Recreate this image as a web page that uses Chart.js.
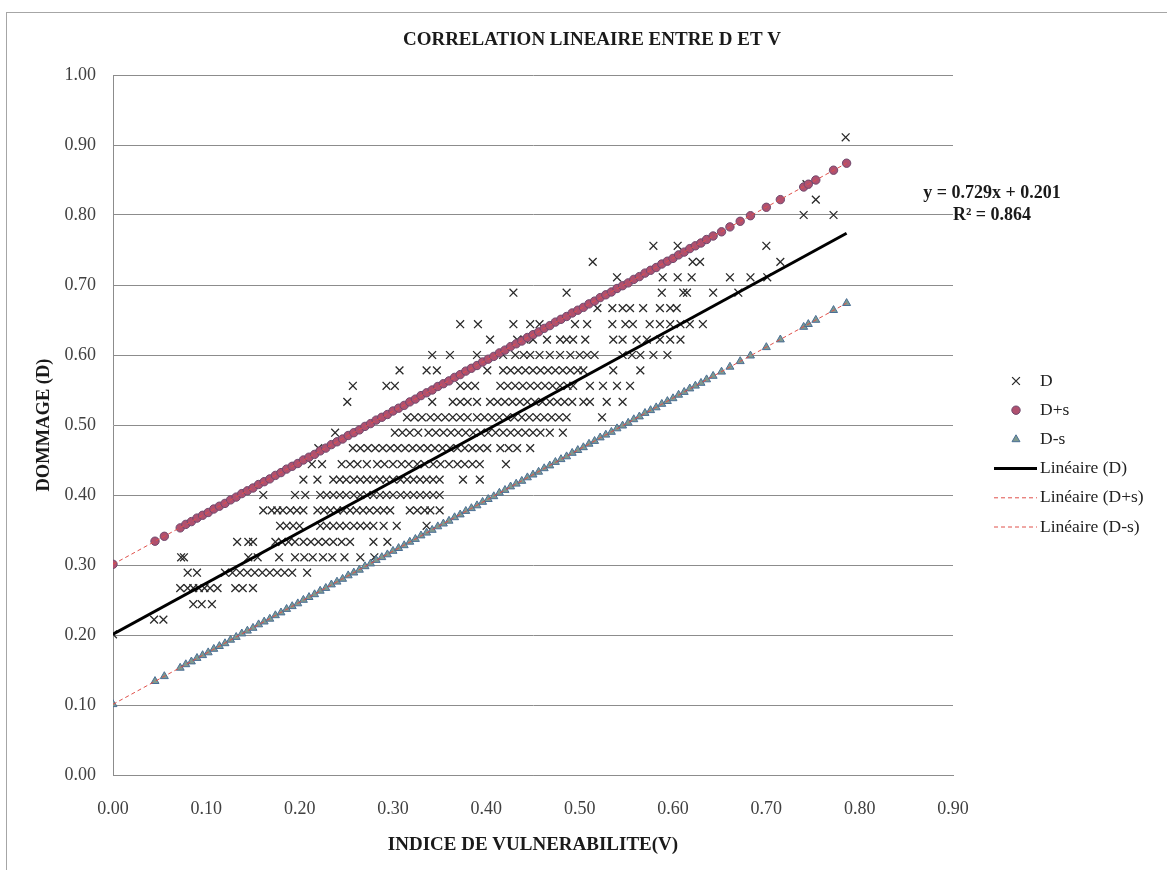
<!DOCTYPE html>
<html>
<head>
<meta charset="utf-8">
<script src="https://cdn.jsdelivr.net/npm/chart.js@4.4.0/dist/chart.umd.min.js"></script>
<style>
  html, body { margin: 0; padding: 0; background: #fff; }
  #wrap { position: relative; width: 1167px; height: 870px; }
</style>
</head>
<body>
<div id="wrap"><canvas id="corrChart" width="1167" height="870"></canvas></div>
<script>
const chartTitle = 'CORRELATION LINEAIRE ENTRE D ET V';
const xTitle = 'INDICE DE VULNERABILITE(V)';
const yTitle = 'DOMMAGE (D)';
const eqLines = ['y = 0.729x + 0.201', 'R\u00b2 = 0.864'];
const seriesNames = ['D', 'D+s', 'D-s', 'Linéaire (D)', 'Linéaire (D+s)', 'Linéaire (D-s)'];

// observed D : one list of V values per D level
const dLevels = [0.201, 0.222, 0.244, 0.267, 0.289, 0.311, 0.333, 0.356, 0.378, 0.400, 0.422, 0.444,
  0.467, 0.489, 0.511, 0.533, 0.556, 0.578, 0.600, 0.622, 0.644, 0.667, 0.689, 0.711, 0.733, 0.756,
  0.800, 0.822, 0.844, 0.911];
const dRowsX = [
  [0],
  [0.044, 0.054],
  [0.086, 0.095, 0.106],
  [0.072, 0.080, 0.086, 0.092, 0.098, 0.104, 0.112, 0.131, 0.139, 0.150],
  [0.080, 0.090, 0.120, 0.128, 0.136, 0.144, 0.152, 0.160, 0.168, 0.176, 0.184, 0.192, 0.208],
  [0.073, 0.076, 0.145, 0.155, 0.178, 0.195, 0.205, 0.214, 0.225, 0.235, 0.248, 0.265, 0.280],
  [0.133, 0.145, 0.150, 0.174, 0.181, 0.188, 0.195, 0.204, 0.212, 0.220, 0.228, 0.236, 0.245, 0.254, 0.279, 0.294],
  [0.179, 0.186, 0.193, 0.200, 0.222, 0.229, 0.236, 0.243, 0.250, 0.258, 0.265, 0.272, 0.279, 0.290, 0.304, 0.336],
  [0.161, 0.170, 0.176, 0.182, 0.190, 0.197, 0.204, 0.219, 0.226, 0.233, 0.240, 0.247, 0.254, 0.261, 0.268, 0.275, 0.283, 0.290, 0.297, 0.318, 0.326, 0.334, 0.340, 0.350],
  [0.161, 0.195, 0.206, 0.222, 0.229, 0.236, 0.243, 0.250, 0.258, 0.265, 0.272, 0.279, 0.286, 0.293, 0.300, 0.308, 0.315, 0.322, 0.329, 0.336, 0.343, 0.350],
  [0.204, 0.219, 0.236, 0.243, 0.250, 0.258, 0.265, 0.272, 0.279, 0.286, 0.293, 0.300, 0.308, 0.315, 0.322, 0.329, 0.336, 0.343, 0.350, 0.375, 0.393],
  [0.213, 0.224, 0.245, 0.254, 0.262, 0.272, 0.283, 0.291, 0.300, 0.309, 0.317, 0.326, 0.334, 0.343, 0.351, 0.360, 0.369, 0.377, 0.385, 0.393, 0.421],
  [0.220, 0.257, 0.265, 0.273, 0.281, 0.289, 0.297, 0.305, 0.313, 0.321, 0.329, 0.337, 0.345, 0.353, 0.361, 0.369, 0.377, 0.385, 0.393, 0.401, 0.415, 0.424, 0.433, 0.447],
  [0.238, 0.302, 0.310, 0.318, 0.327, 0.338, 0.346, 0.354, 0.362, 0.370, 0.378, 0.386, 0.394, 0.402, 0.410, 0.418, 0.426, 0.434, 0.442, 0.450, 0.458, 0.468, 0.482],
  [0.315, 0.323, 0.331, 0.340, 0.348, 0.356, 0.364, 0.372, 0.380, 0.390, 0.398, 0.406, 0.414, 0.422, 0.430, 0.438, 0.446, 0.454, 0.462, 0.470, 0.478, 0.486, 0.524],
  [0.251, 0.342, 0.364, 0.372, 0.380, 0.390, 0.404, 0.412, 0.420, 0.428, 0.436, 0.444, 0.452, 0.460, 0.468, 0.476, 0.484, 0.492, 0.504, 0.511, 0.529, 0.546],
  [0.257, 0.293, 0.302, 0.372, 0.380, 0.388, 0.415, 0.423, 0.431, 0.439, 0.447, 0.455, 0.463, 0.471, 0.479, 0.487, 0.493, 0.511, 0.525, 0.540, 0.554],
  [0.307, 0.336, 0.347, 0.401, 0.418, 0.426, 0.434, 0.442, 0.450, 0.458, 0.466, 0.474, 0.482, 0.490, 0.498, 0.504, 0.536, 0.565],
  [0.342, 0.361, 0.390, 0.418, 0.431, 0.440, 0.447, 0.457, 0.468, 0.479, 0.490, 0.500, 0.508, 0.516, 0.546, 0.556, 0.565, 0.579, 0.594],
  [0.404, 0.433, 0.441, 0.450, 0.465, 0.479, 0.486, 0.493, 0.506, 0.536, 0.546, 0.561, 0.572, 0.586, 0.597, 0.608],
  [0.372, 0.391, 0.429, 0.447, 0.457, 0.495, 0.508, 0.535, 0.549, 0.557, 0.575, 0.586, 0.597, 0.608, 0.618, 0.632],
  [0.519, 0.535, 0.546, 0.554, 0.568, 0.586, 0.597, 0.604],
  [0.429, 0.486, 0.588, 0.611, 0.615, 0.643, 0.670],
  [0.540, 0.589, 0.605, 0.620, 0.661, 0.683, 0.701],
  [0.514, 0.621, 0.629, 0.715],
  [0.579, 0.605, 0.700],
  [0.740, 0.772],
  [0.753],
  [0.743],
  [0.785]
];

// D+s and D-s share the V values
const vX = [0, 0.045, 0.055, 0.072, 0.078, 0.084, 0.090, 0.096, 0.102, 0.108, 0.114, 0.120, 0.126,
  0.132, 0.138, 0.144, 0.150, 0.156, 0.162, 0.168, 0.174, 0.180, 0.186, 0.192, 0.198, 0.204, 0.210,
  0.216, 0.222, 0.228, 0.234, 0.240, 0.246, 0.252, 0.258, 0.264, 0.270, 0.276, 0.282, 0.288, 0.294,
  0.300, 0.306, 0.312, 0.318, 0.324, 0.330, 0.336, 0.342, 0.348, 0.354, 0.360, 0.366, 0.372, 0.378,
  0.384, 0.390, 0.396, 0.402, 0.408, 0.414, 0.420, 0.426, 0.432, 0.438, 0.444, 0.450, 0.456, 0.462,
  0.468, 0.474, 0.480, 0.486, 0.492, 0.498, 0.504, 0.510, 0.516, 0.522, 0.528, 0.534, 0.540, 0.546,
  0.552, 0.558, 0.564, 0.570, 0.576, 0.582, 0.588, 0.594, 0.600, 0.606, 0.612, 0.618, 0.624, 0.630,
  0.636, 0.643, 0.652, 0.661, 0.672, 0.683, 0.700, 0.715, 0.740, 0.745, 0.753, 0.772, 0.786];
const dPlusY = [0.301, 0.334, 0.341, 0.353, 0.358, 0.362, 0.367, 0.371, 0.375, 0.380, 0.384, 0.388,
  0.393, 0.397, 0.402, 0.406, 0.410, 0.415, 0.419, 0.423, 0.428, 0.432, 0.437, 0.441, 0.445, 0.450,
  0.454, 0.458, 0.463, 0.467, 0.472, 0.476, 0.480, 0.485, 0.489, 0.493, 0.498, 0.502, 0.507, 0.511,
  0.515, 0.520, 0.524, 0.528, 0.533, 0.537, 0.542, 0.546, 0.550, 0.555, 0.559, 0.563, 0.568, 0.572,
  0.577, 0.581, 0.585, 0.590, 0.594, 0.598, 0.603, 0.607, 0.612, 0.616, 0.620, 0.625, 0.629, 0.633,
  0.638, 0.642, 0.647, 0.651, 0.655, 0.660, 0.664, 0.668, 0.673, 0.677, 0.682, 0.686, 0.690, 0.695,
  0.699, 0.703, 0.708, 0.712, 0.717, 0.721, 0.725, 0.730, 0.734, 0.738, 0.743, 0.747, 0.752, 0.756,
  0.760, 0.765, 0.770, 0.776, 0.783, 0.791, 0.799, 0.811, 0.822, 0.840, 0.844, 0.850, 0.864, 0.874];
const dMinusY = [0.101, 0.134, 0.141, 0.153, 0.158, 0.162, 0.167, 0.171, 0.175, 0.180, 0.184, 0.188,
  0.193, 0.197, 0.202, 0.206, 0.210, 0.215, 0.219, 0.223, 0.228, 0.232, 0.237, 0.241, 0.245, 0.250,
  0.254, 0.258, 0.263, 0.267, 0.272, 0.276, 0.280, 0.285, 0.289, 0.293, 0.298, 0.302, 0.307, 0.311,
  0.315, 0.320, 0.324, 0.328, 0.333, 0.337, 0.342, 0.346, 0.350, 0.355, 0.359, 0.363, 0.368, 0.372,
  0.377, 0.381, 0.385, 0.390, 0.394, 0.398, 0.403, 0.407, 0.412, 0.416, 0.420, 0.425, 0.429, 0.433,
  0.438, 0.442, 0.447, 0.451, 0.455, 0.460, 0.464, 0.468, 0.473, 0.477, 0.482, 0.486, 0.490, 0.495,
  0.499, 0.503, 0.508, 0.512, 0.517, 0.521, 0.525, 0.530, 0.534, 0.538, 0.543, 0.547, 0.552, 0.556,
  0.560, 0.565, 0.570, 0.576, 0.583, 0.591, 0.599, 0.611, 0.622, 0.640, 0.644, 0.650, 0.664, 0.674];

// trend lines, end points
const trendX = [0, 0.786];
const trendD = [0.201, 0.774];
const trendPlus = [0.301, 0.874];
const trendMinus = [0.101, 0.674];

function pairs(xs, ys) {
  return xs.map((x, i) => ({ x: x, y: ys[i] }));
}

let dPoints = [];
dLevels.forEach((lvl, i) => {
  dRowsX[i].forEach(x => dPoints.push({ x: x, y: lvl }));
});

const serif = '"Liberation Serif", "Times New Roman", serif';
const gridGray = '#8c8c8c';

const decorPlugin = {
  id: 'decor',
  beforeDraw(chart) {
    let ctx = chart.ctx;
    ctx.save();
    ctx.fillStyle = '#fff';
    ctx.fillRect(0, 0, chart.width, chart.height);
    ctx.strokeStyle = '#a6a6a6';
    ctx.lineWidth = 1;
    ctx.strokeRect(6.5, 12.5, chart.width + 20, chart.height + 20);
    ctx.restore();
  },
  afterDraw(chart) {
    let ctx = chart.ctx;
    ctx.save();
    ctx.textBaseline = 'middle';
    ctx.textAlign = 'center';
    ctx.fillStyle = '#1a1a1a';
    ctx.font = 'bold 19px ' + serif;
    ctx.fillText(chartTitle, 592, 40);

    ctx.font = 'bold 18px ' + serif;
    ctx.fillText(eqLines[0], 992, 193);
    ctx.fillText(eqLines[1], 992, 215);

    // legend
    chart.data.datasets.forEach((ds, i) => {
      let y = 381 + i * 29.2;
      ctx.save();
      if (ds.showLine) {
        ctx.strokeStyle = ds.borderColor;
        ctx.lineWidth = ds.borderWidth;
        ctx.setLineDash(ds.borderDash || []);
        ctx.beginPath();
        ctx.moveTo(994, y);
        ctx.lineTo(1037, y);
        ctx.stroke();
      } else {
        ctx.fillStyle = ds.backgroundColor;
        ctx.strokeStyle = ds.borderColor;
        ctx.lineWidth = ds.borderWidth;
        Chart.helpers.drawPoint(ctx, {
          pointStyle: ds.pointStyle, radius: ds.pointRadius, rotation: 0, borderWidth: ds.borderWidth
        }, 1016, y);
      }
      ctx.restore();
      ctx.fillStyle = '#222';
      ctx.textAlign = 'left';
      ctx.font = '17.5px ' + serif;
      ctx.fillText(ds.label, 1040, y);
    });
    ctx.restore();
  }
};

new Chart(document.getElementById('corrChart'), {
  type: 'scatter',
  data: {
    datasets: [
      {
        label: seriesNames[0], data: dPoints, order: 6,
        pointStyle: 'crossRot', pointRadius: 5.5, borderWidth: 1.3,
        borderColor: '#2a2a2a', backgroundColor: '#2a2a2a'
      },
      {
        label: seriesNames[1], data: pairs(vX, dPlusY), order: 5,
        pointStyle: 'circle', pointRadius: 4.2, borderWidth: 1,
        borderColor: '#6f4a6e', backgroundColor: '#b0506f'
      },
      {
        label: seriesNames[2], data: pairs(vX, dMinusY), order: 4,
        pointStyle: 'triangle', pointRadius: 4.6, borderWidth: 1,
        borderColor: '#4a6f96', backgroundColor: '#7f9a8f'
      },
      {
        label: seriesNames[3], data: pairs(trendX, trendD), order: 3,
        showLine: true, pointRadius: 0, borderColor: '#000', borderWidth: 3
      },
      {
        label: seriesNames[4], data: pairs(trendX, trendPlus), order: 2,
        showLine: true, pointRadius: 0, borderColor: '#e0504a', borderWidth: 1, borderDash: [4, 3]
      },
      {
        label: seriesNames[5], data: pairs(trendX, trendMinus), order: 1,
        showLine: true, pointRadius: 0, borderColor: '#e0504a', borderWidth: 1, borderDash: [4, 3]
      }
    ]
  },
  options: {
    responsive: false,
    animation: false,
    events: [],
    layout: { padding: { left: 0, right: 214, top: 75, bottom: 0 } },
    plugins: {
      legend: { display: false },
      title: { display: false },
      tooltip: { enabled: false }
    },
    scales: {
      x: {
        type: 'linear', min: 0, max: 0.9,
        afterFit: scale => { scale.height = 95; },
        grid: { display: false, drawTicks: false },
        border: { display: true, color: gridGray, width: 1 },
        ticks: {
          stepSize: 0.1, padding: 23, maxRotation: 0, autoSkip: false,
          color: '#404040', font: { family: serif, size: 18 },
          callback: v => v.toFixed(2)
        },
        title: {
          display: true, text: xTitle, color: '#1a1a1a',
          font: { family: serif, size: 19, weight: 'bold' },
          padding: { top: 0, bottom: 14 }
        }
      },
      y: {
        type: 'linear', min: 0, max: 1,
        afterFit: scale => { scale.width = 113; },
        grid: { color: gridGray, lineWidth: 1, drawTicks: false },
        border: { display: true, color: gridGray, width: 1 },
        ticks: {
          stepSize: 0.1, padding: 17,
          color: '#404040', font: { family: serif, size: 18 },
          callback: v => v.toFixed(2)
        },
        title: {
          display: true, text: yTitle, color: '#1a1a1a',
          font: { family: serif, size: 18.5, weight: 'bold' },
          padding: { top: 33, bottom: 0 }
        }
      }
    }
  },
  plugins: [decorPlugin]
});
</script>
</body>
</html>
